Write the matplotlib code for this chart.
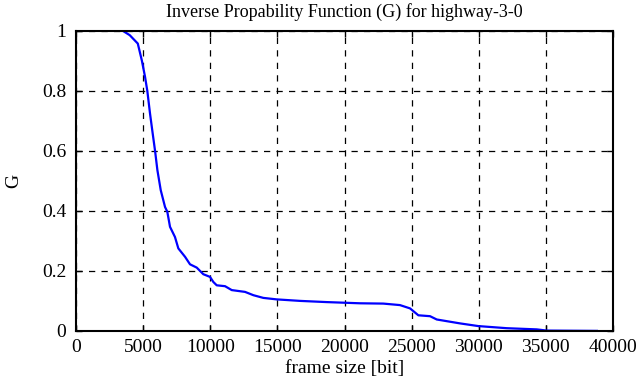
import matplotlib.pyplot as plt

# frame size [bit] vs. G
frame_size = [3500, 4000, 4600, 4900, 5140, 5310, 5510, 5710, 5890, 6060, 6310, 6630,
              6800, 7000, 7370, 7620, 8120, 8490, 8990, 9480, 9980, 10230, 10480,
              11100, 11600, 12590, 13210, 13950, 14950, 16690, 18670, 21150, 22890,
              24130, 24880, 25500, 26370, 26870, 28600, 29970, 32080, 34320, 35060,
              38800]
g_vals = [1.0, 0.986, 0.958, 0.902, 0.847, 0.800, 0.725, 0.658, 0.599, 0.536, 0.469,
          0.413, 0.397, 0.347, 0.313, 0.275, 0.247, 0.222, 0.211, 0.189, 0.180, 0.163,
          0.152, 0.149, 0.136, 0.130, 0.119, 0.110, 0.105, 0.100, 0.096, 0.092, 0.091,
          0.086, 0.075, 0.052, 0.049, 0.038, 0.025, 0.016, 0.009, 0.005, 0.001, 0.0]

x_ticks = [0, 5000, 10000, 15000, 20000, 25000, 30000, 35000, 40000]
y_ticks = [0, 0.2, 0.4, 0.6, 0.8, 1]
y_labels = ['0', '0.2', '0.4', '0.6', '0.8', '1']

plt.rcParams['font.family'] = ['Liberation Serif', 'DejaVu Serif']
plt.rcParams['font.size'] = 14

fig = plt.figure(figsize=(6.39, 3.87), dpi=100)
ax = fig.add_axes([0.119, 0.145, 0.8403, 0.775])

ax.plot(frame_size, g_vals, color='#0000ff', lw=1.6)

ax.set_xlim(0, 40000)
ax.set_ylim(0, 1)
ax.set_xticks(x_ticks)
ax.set_xticklabels([str(t) for t in x_ticks])
ax.set_yticks(y_ticks)
ax.set_yticklabels(y_labels)
ax.tick_params(axis='x', direction='in', top=True, length=4, width=1, pad=6)
ax.tick_params(axis='y', direction='in', right=True, length=4, width=1, pad=7)
ax.grid(True, color='black', linestyle=(0, (5, 5)), linewidth=0.9)

for s in ax.spines.values():
    s.set_linewidth(1.5)

ax.set_title('Inverse Propability Function (G) for highway-3-0', fontsize=13, pad=10)
ax.set_xlabel('frame size [bit]', labelpad=3)
ax.set_ylabel('G', labelpad=14)

fig.savefig('out.png', dpi=100)
